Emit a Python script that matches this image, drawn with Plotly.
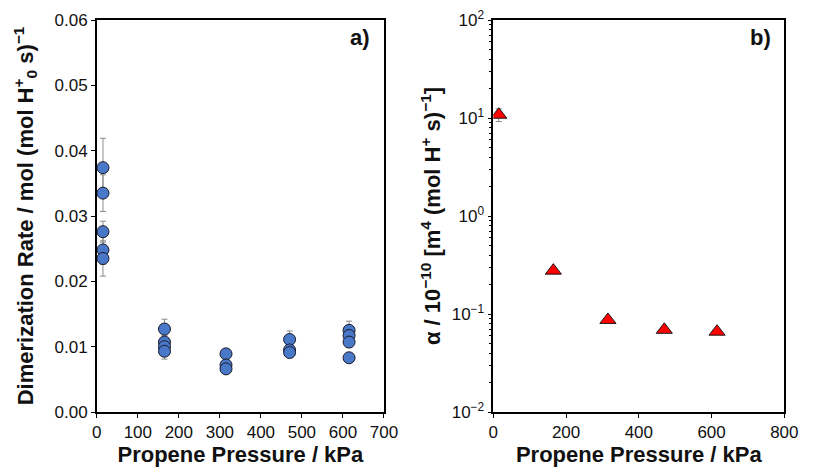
import plotly.graph_objects as go

# Panel a) dimerization rate vs propene pressure
pressure_a = [15, 15, 15, 15, 15,
              165, 165, 165, 165,
              315, 315, 315,
              470, 470, 470,
              615, 615, 615, 615]
rate_a = [0.0374, 0.0335, 0.0276, 0.0248, 0.0235,
          0.0127, 0.0107, 0.0100, 0.0093,
          0.0089, 0.0072, 0.0066,
          0.0111, 0.0095, 0.0091,
          0.0125, 0.0117, 0.0107, 0.0083]
rate_err_a = [0.0045, 0.0028, 0.0016, 0.0022, 0.0027,
              0.0015, 0.0010, 0.0010, 0.0012,
              0.0004, 0.0004, 0.0004,
              0.0013, 0.0006, 0.0005,
              0.0014, 0.0008, 0.0008, 0.0005]

# Panel b) alpha vs propene pressure
pressure_b = [15, 165, 315, 470, 615]
alpha_b = [10.8, 0.277, 0.087, 0.069, 0.066]
alpha_err_b = [1.6, 0.0, 0.0, 0.0, 0.0]

x_ticks_a = [0, 100, 200, 300, 400, 500, 600, 700]
y_ticks_a = [0.00, 0.01, 0.02, 0.03, 0.04, 0.05, 0.06]
x_ticks_b = [0, 200, 400, 600, 800]
y_ticks_b = [0.01, 0.1, 1, 10, 100]
y_ticktext_b = ["10<sup>−2</sup>", "10<sup>−1</sup>", "10<sup>0</sup>",
                "10<sup>1</sup>", "10<sup>2</sup>"]
y_minor_b = [k * 10.0 ** e for e in range(-2, 2) for k in range(2, 10)]

FONT = "Liberation Sans, Arial, sans-serif"
TICK_FONT = dict(family=FONT, size=17, color="#111")
TITLE_FONT = dict(family=FONT, size=22, color="#111")

fig = go.Figure()

fig.add_trace(go.Scatter(
    x=pressure_a, y=rate_a, mode="markers",
    error_y=dict(type="data", array=rate_err_a, color="#8a8a8a",
                 thickness=1, width=3),
    marker=dict(symbol="circle", size=12, color="#4a78c8",
                line=dict(color="#1a1a2a", width=1)),
    xaxis="x", yaxis="y", showlegend=False,
))

fig.add_trace(go.Scatter(
    x=pressure_b, y=alpha_b, mode="markers",
    error_y=dict(type="data", array=alpha_err_b, color="#8a8a8a",
                 thickness=1, width=3),
    marker=dict(symbol="triangle-up", size=14, color="#ff0000",
                line=dict(color="#1a1a1a", width=1)),
    xaxis="x2", yaxis="y2", showlegend=False,
))

axis_common = dict(
    showline=True, linecolor="black", linewidth=1.5, mirror=True,
    ticks="outside", ticklen=4, tickcolor="black", tickwidth=1,
    showgrid=False, zeroline=False, tickfont=TICK_FONT,
)

fig.update_layout(
    width=813, height=469,
    margin=dict(l=0, r=0, t=20, b=57),
    paper_bgcolor="white", plot_bgcolor="white",
    xaxis=dict(domain=[94 / 813, 388 / 813], range=[0, 700],
               tickvals=x_ticks_a, anchor="y",
               title=dict(text="<b>Propene Pressure / kPa</b>", font=TITLE_FONT,
                          standoff=5),
               **axis_common),
    yaxis=dict(range=[0, 0.06], tickvals=y_ticks_a, tickformat=".2f",
               anchor="x",
               title=dict(text="<b>Dimerization Rate / mol (mol H<sup>+</sup><sub>0</sub> s)<sup>−1</sup></b>",
                          font=TITLE_FONT, standoff=15),
               **axis_common),
    xaxis2=dict(domain=[500 / 813, 798 / 813], range=[0, 800],
                tickvals=x_ticks_b, anchor="y2",
                title=dict(text="<b>Propene Pressure / kPa</b>", font=TITLE_FONT,
                           standoff=5),
                **axis_common),
    yaxis2=dict(type="log", range=[-2, 2], tickvals=y_ticks_b,
                ticktext=y_ticktext_b, anchor="x2",
                minor=dict(tickvals=y_minor_b, ticks="outside", ticklen=3,
                           tickcolor="black", tickwidth=1, showgrid=False),
                title=dict(text="<b>α / 10<sup>−10</sup> [m<sup>4</sup> (mol H<sup>+</sup> s)<sup>−1</sup>]</b>",
                           font=TITLE_FONT, standoff=5),
                **axis_common),
    annotations=[
        dict(text="<b>a)</b>", x=0.96, y=0.955, xref="x domain", yref="y domain",
             xanchor="right", yanchor="middle", showarrow=False,
             font=dict(family=FONT, size=22, color="#111")),
        dict(text="<b>b)</b>", x=0.96, y=0.955, xref="x2 domain", yref="y2 domain",
             xanchor="right", yanchor="middle", showarrow=False,
             font=dict(family=FONT, size=22, color="#111")),
    ],
)

fig.write_html("out.html")
